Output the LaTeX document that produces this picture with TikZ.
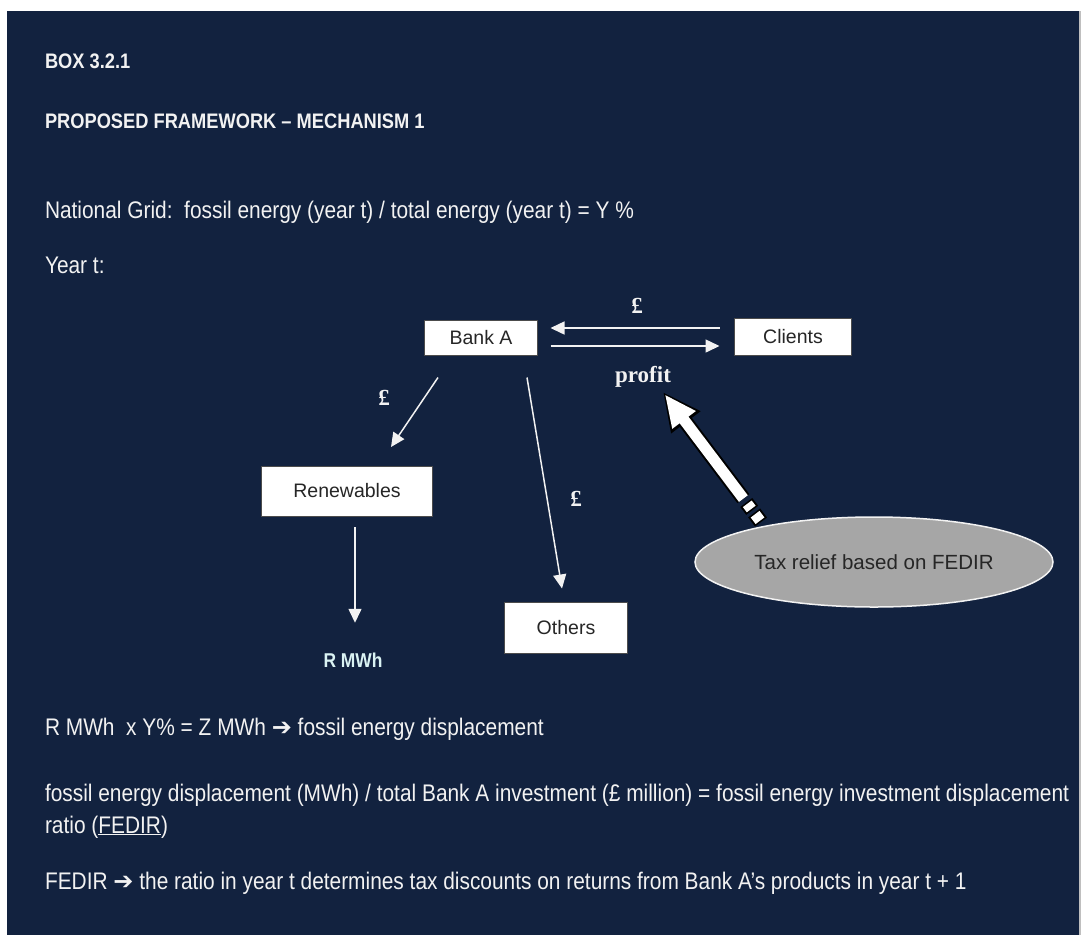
\documentclass[tikz,border=0pt]{standalone}
\usepackage{fontspec}
\setmainfont{Liberation Sans}
\newfontfamily\nar[FakeStretch=0.87]{Liberation Sans}
\newfontfamily\ser{Liberation Serif}
\newfontfamily\djv{DejaVu Sans}
\usetikzlibrary{arrows.meta,shapes.geometric,calc}
\definecolor{navy}{RGB}{18,34,63}
\definecolor{txt}{RGB}{242,242,242}
\definecolor{ellgray}{RGB}{166,166,166}
\begin{document}
\begin{tikzpicture}[x=1pt,y=-1pt,
  every node/.style={inner sep=0pt, outer sep=0pt},
  bodyline/.style={anchor=base west, text=txt, font=\nar\fontsize{24}{28}\selectfont},
  headline/.style={anchor=base west, text=txt, font=\nar\bfseries\fontsize{21}{25}\selectfont},
  wbox/.style={draw=black!70, line width=0.8pt, fill=white, text=black!85, font=\fontsize{19.5}{23}\selectfont},
  lbl/.style={text=txt, font=\ser\bfseries\fontsize{23}{27}\selectfont},
  conn/.style={draw=txt, line width=1.5pt, -{Triangle[length=14pt,width=13pt]}}]
\useasboundingbox (0,0) rectangle (1083,935);
\fill[white] (0,0) rectangle (1083,935);
\fill[navy] (7,11) rectangle (1079,935);
\fill[black!25] (1079,11) rectangle (1081,935);

\node[headline] (t1) at (45,68) {BOX 3.2.1};
\node[headline] (t2) at (45,128) {PROPOSED FRAMEWORK – MECHANISM 1};
\node[bodyline] (t3) at (45,218) {National Grid:\ \ fossil energy (year t) / total energy (year t) = Y \%};
\node[bodyline] (t4) at (45,273) {Year t:};

\node[wbox, minimum width=113, minimum height=35] (bank) at (481,338) {Bank A};
\node[wbox, minimum width=117, minimum height=37] (clients) at (793,337) {Clients};
\node[wbox, minimum width=171, minimum height=50] (renew) at (347,491) {Renewables};
\node[wbox, minimum width=123, minimum height=51] (others) at (566,628) {Others};
\node[ellipse, draw=white!90!gray, line width=1.5pt, fill=ellgray, minimum width=358, minimum height=90,
      text=black!85, font=\fontsize{20.5}{24}\selectfont] (tax) at (874,562) {Tax relief based on FEDIR};

\node[lbl] (pu) at (637,306) {£};
\node[lbl] (profit) at (643,377) {profit};
\node[lbl] (pl) at (384,398) {£};
\node[lbl] (pm) at (576,499) {£};
\node[text=txt!90!cyan, font=\nar\bfseries\fontsize{20}{24}\selectfont] (rmwh) at (353,660) {R MWh};

\draw[conn] ([xshift=-15pt,yshift=9pt]clients.west) -- ([xshift=13pt,yshift=10pt]bank.east);
\draw[conn] ([xshift=13pt,yshift=-8pt]bank.east) -- ([xshift=-15pt,yshift=-9pt]clients.west);
\draw[conn] ([xshift=-43pt,yshift=-22pt]bank.south) -- ([xshift=44pt,yshift=19pt]renew.north);
\draw[conn] ([xshift=46pt,yshift=-22pt]bank.south) -- ([xshift=-4pt,yshift=14pt]others.north);
\draw[conn] ([xshift=8pt,yshift=-11pt]renew.south) -- ([xshift=2pt,yshift=30pt]rmwh.north);

% thick block arrow from tax relief to profit
\coordinate (ttip) at (663,392);
\coordinate (ttail) at (761,522);
\draw[line width=15pt, black, -{Triangle[length=38pt,width=34pt]}] ($(ttip)!0.82!(ttail)$) -- (ttip);
\draw[line width=11pt, white, shorten >=3pt, -{Triangle[length=32pt,width=27pt]}] ($(ttip)!0.82!(ttail)$) -- (ttip);
\draw[line width=15pt, black] ($(ttip)!0.85!(ttail)$) -- ($(ttip)!0.91!(ttail)$);
\draw[line width=11pt, white] ($(ttip)!0.86!(ttail)$) -- ($(ttip)!0.90!(ttail)$);
\draw[line width=15pt, black] ($(ttip)!0.93!(ttail)$) -- ($(ttip)!1.0!(ttail)$);
\draw[line width=11pt, white] ($(ttip)!0.94!(ttail)$) -- ($(ttip)!0.99!(ttail)$);

\node[bodyline] (b1) at (45,735) {R MWh\ \ x Y\% = Z MWh {\djv\fontsize{24}{28}\selectfont ➔} fossil energy displacement};
\node[bodyline] (b2) at (45,801) {fossil energy displacement (MWh) / total Bank A investment (£ million) = fossil energy investment displacement};
\node[bodyline] (b3) at (45,833) {ratio (\underline{FEDIR})};
\node[bodyline] (b4) at (45,889) {FEDIR {\djv\fontsize{24}{28}\selectfont ➔} the ratio in year t determines tax discounts on returns from Bank A’s products in year t + 1};
\end{tikzpicture}
\end{document}
